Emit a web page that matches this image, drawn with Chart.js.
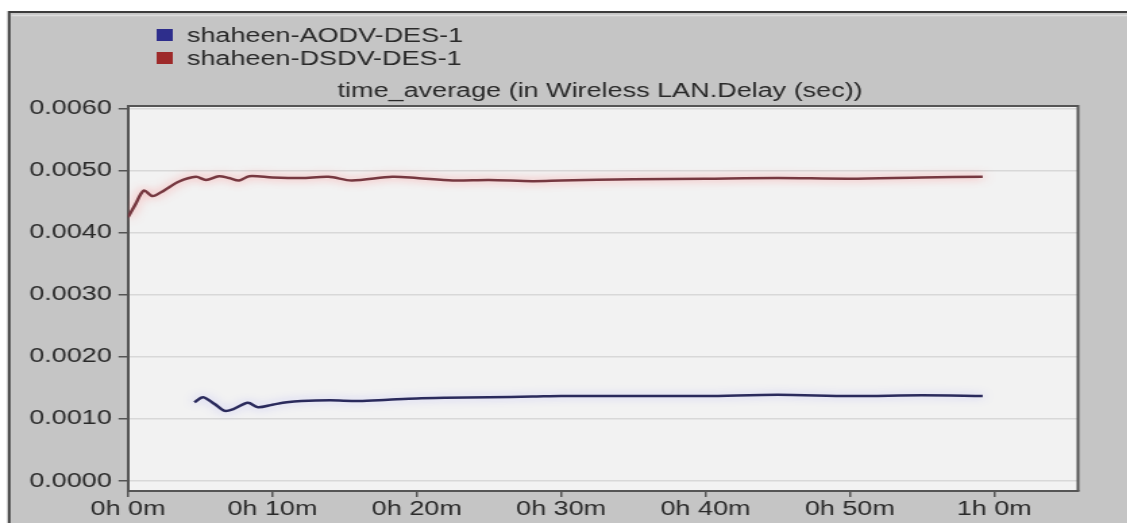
<!DOCTYPE html>
<html>
<head>
<meta charset="utf-8">
<script src="https://cdn.jsdelivr.net/npm/chart.js@4.4.1/dist/chart.umd.min.js"></script>
<style>
  html, body { margin: 0; padding: 0; background: #fff; overflow: hidden; }
  #wrap { width: 835px; height: 523px; transform: scaleX(1.35); transform-origin: 0 0; }
</style>
</head>
<body>
<div id="wrap"><canvas id="chart" width="835" height="523"></canvas></div>
<script>
// series, time in minutes
const aodvTimes = [4.6, 5.2, 6.0, 6.7, 7.3, 8.3, 9.0, 10, 11, 12, 14, 16, 18, 20, 22, 25, 28, 30, 35, 40, 45, 50, 55, 59.2];
const aodvValues = [0.00127, 0.00135, 0.00124, 0.00113, 0.00116, 0.00126, 0.00119, 0.00123, 0.00127, 0.00129, 0.00130, 0.00129, 0.00131, 0.00133, 0.00134, 0.00135, 0.00136, 0.00137, 0.00137, 0.00137, 0.00139, 0.00137, 0.00138, 0.00137];

const dsdvTimes = [0, 0.5, 1.1, 1.7, 2.5, 3.5, 4.7, 5.4, 6.3, 7.0, 7.7, 8.4, 10, 12, 13.9, 15.5, 18.3, 20, 22.5, 25, 28, 30, 35, 40, 45, 50, 55, 59.2];
const dsdvValues = [0.00425, 0.00445, 0.00468, 0.00459, 0.00468, 0.00482, 0.00490, 0.00485, 0.00491, 0.00488, 0.00484, 0.00491, 0.00489, 0.00488, 0.00490, 0.00484, 0.00490, 0.00488, 0.00484, 0.00485, 0.00483, 0.00484, 0.00486, 0.00487, 0.00488, 0.00487, 0.00489, 0.00490];

const seriesNames = ['shaheen-AODV-DES-1', 'shaheen-DSDV-DES-1'];
const chartTitle = 'time_average (in Wireless LAN.Delay (sec))';

const xTickValues = [0, 10, 20, 30, 40, 50, 60];
const xTickLabels = ['0h 0m', '0h 10m', '0h 20m', '0h 30m', '0h 40m', '0h 50m', '1h 0m'];
const yTickValues = [0, 0.001, 0.002, 0.003, 0.004, 0.005, 0.006];

const FONT = 'Liberation Sans, Arial, sans-serif';
const TEXT = '#2a2a2a';
const lineColors = ['#2a2a5c', '#763840'];
const glowColors = ['rgba(130,130,255,0.45)', 'rgba(255,100,100,0.7)'];
const legendColors = ['#2e2e8c', '#9e2a2a'];

function toPoints(xs, ys) {
    return xs.map((x, i) => ({ x: x, y: ys[i] }));
}

const framePlugin = {
    id: 'frame',
    beforeDraw(chart) {
        const ctx = chart.ctx;
        const a = chart.chartArea;
        ctx.save();
        ctx.fillStyle = '#ffffff';
        ctx.fillRect(0, 0, chart.width, chart.height);
        ctx.fillStyle = '#c5c5c5';
        ctx.fillRect(6.7, 12, chart.width, chart.height);
        ctx.strokeStyle = '#3c3c3c';
        ctx.lineWidth = 2;
        ctx.beginPath();
        ctx.moveTo(6.7, chart.height);
        ctx.lineTo(6.7, 12);
        ctx.lineTo(chart.width, 12);
        ctx.stroke();
        ctx.strokeStyle = '#dedede';
        ctx.lineWidth = 1.5;
        ctx.beginPath();
        ctx.moveTo(8.5, 15.5);
        ctx.lineTo(chart.width, 15.5);
        ctx.stroke();
        ctx.fillStyle = '#f2f2f2';
        ctx.fillRect(a.left, a.top, a.right - a.left, a.bottom - a.top);
        ctx.restore();
    },
    beforeDatasetDraw(chart, args) {
        const ctx = chart.ctx;
        ctx.save();
        ctx.shadowColor = glowColors[args.index];
        ctx.shadowBlur = 9;
    },
    afterDatasetDraw(chart) {
        chart.ctx.restore();
    },
    afterDraw(chart) {
        const ctx = chart.ctx;
        const a = chart.chartArea;
        ctx.save();
        ctx.strokeStyle = '#555555';
        ctx.lineWidth = 2;
        ctx.beginPath();
        ctx.moveTo(a.left, a.top);
        ctx.lineTo(a.right, a.top);
        ctx.lineTo(a.right, a.bottom);
        ctx.stroke();

        // legend
        ctx.font = '20px ' + FONT;
        ctx.textBaseline = 'middle';
        ctx.textAlign = 'left';
        seriesNames.forEach((name, i) => {
            const y = 35 + i * 23;
            ctx.fillStyle = legendColors[i];
            ctx.fillRect(116, y - 6, 12, 12);
            ctx.fillStyle = TEXT;
            ctx.fillText(name, 138.5, y + 1);
        });

        // title
        ctx.textAlign = 'center';
        ctx.fillStyle = TEXT;
        ctx.fillText(chartTitle, 444.5, 91);
        ctx.restore();
    }
};

const ctx = document.getElementById('chart');
new Chart(ctx, {
    type: 'line',
    data: {
        datasets: [
            {
                label: seriesNames[0],
                data: toPoints(aodvTimes, aodvValues),
                borderColor: lineColors[0],
                borderWidth: 2.5,
                pointRadius: 0,
                tension: 0.3,
                fill: false
            },
            {
                label: seriesNames[1],
                data: toPoints(dsdvTimes, dsdvValues),
                borderColor: lineColors[1],
                borderWidth: 2.5,
                pointRadius: 0,
                tension: 0.3,
                fill: false
            }
        ]
    },
    options: {
        responsive: false,
        animation: false,
        layout: {
            padding: { left: 0, top: 106, right: 36.5, bottom: 0 }
        },
        plugins: {
            legend: { display: false },
            title: { display: false },
            tooltip: { enabled: false }
        },
        scales: {
            x: {
                type: 'linear',
                min: 0,
                max: 65.8,
                afterBuildTicks: (scale) => {
                    scale.ticks = xTickValues.map(v => ({ value: v }));
                },
                afterFit: (scale) => { scale.height = 32; },
                ticks: {
                    color: TEXT,
                    font: { family: FONT, size: 20 },
                    padding: 0,
                    maxRotation: 0,
                    callback: (value, index) => xTickLabels[index]
                },
                grid: {
                    drawOnChartArea: false,
                    tickLength: 6,
                    tickColor: '#555555',
                    lineWidth: 1.5
                },
                border: { display: true, color: '#555555', width: 2 }
            },
            y: {
                min: -0.00016,
                max: 0.00604,
                afterBuildTicks: (scale) => {
                    scale.ticks = yTickValues.map(v => ({ value: v }));
                },
                afterFit: (scale) => { scale.width = 94.8; },
                ticks: {
                    color: TEXT,
                    font: { family: FONT, size: 20 },
                    padding: 5,
                    callback: (value) => Number(value).toFixed(4)
                },
                grid: {
                    color: '#d8d8d8',
                    lineWidth: 1.5,
                    tickLength: 7,
                    tickColor: '#555555'
                },
                border: { display: true, color: '#555555', width: 2 }
            }
        }
    },
    plugins: [framePlugin]
});
</script>
</body>
</html>
